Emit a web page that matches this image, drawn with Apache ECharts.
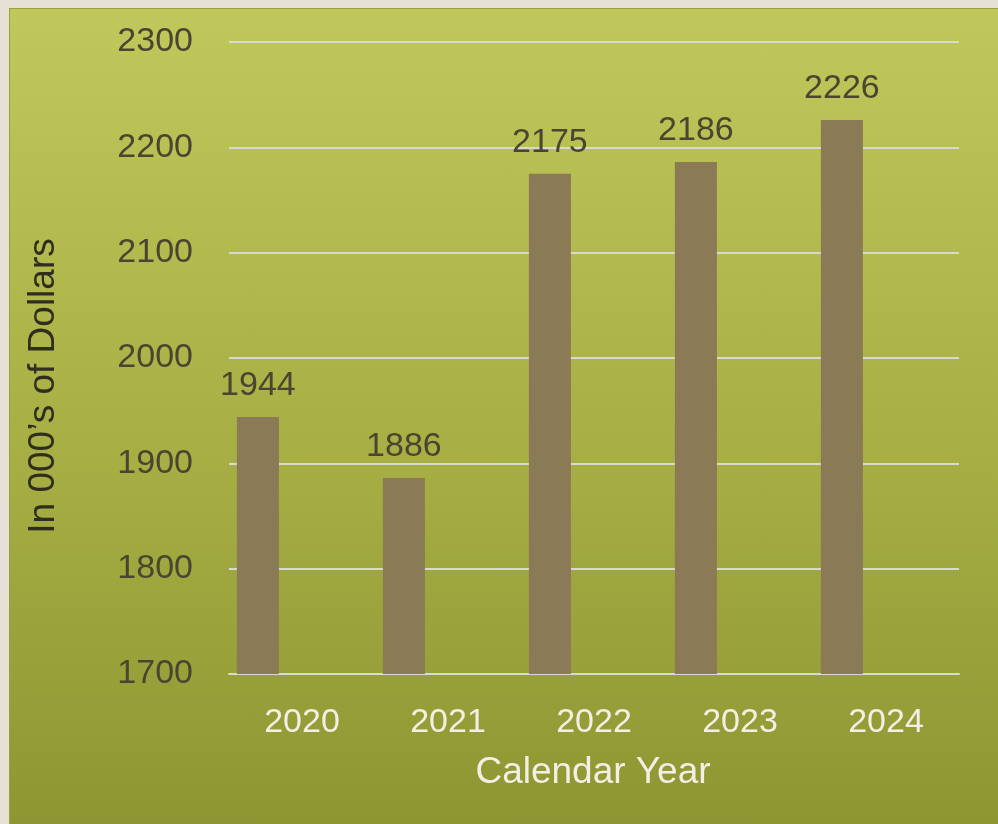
<!DOCTYPE html>
<html>
<head>
<meta charset="utf-8">
<title>Calendar Year</title>
<script src="https://cdn.jsdelivr.net/npm/echarts@6/dist/echarts.min.js"></script>
<style>
  html, body { margin: 0; padding: 0; background: #e6e0d7; }
  #frame {
    position: absolute; left: 9px; top: 8px; width: 988px; height: 815px;
    border-left: 1px solid #97a23f; border-top: 1px solid #97a23f;
    background: linear-gradient(to bottom, #c0c75b 0%, #a9b146 50%, #8d9632 100%);
  }
  #chart { width: 988px; height: 815px; }
</style>
</head>
<body>
<div id="frame"><div id="chart"></div></div>
<script>
  const years = ['2020', '2021', '2022', '2023', '2024'];
  const spending = [1944, 1886, 2175, 2186, 2226];
  const emptySlot = [null, null, null, null, null];
  const yTicks = { min: 1700, max: 2300, interval: 100 };

  const font = '"Liberation Sans", Arial, sans-serif';
  const myChart = echarts.init(document.getElementById('chart'));

  const option = {
    animation: false,
    grid: { left: 219, right: 39, top: 33, bottom: 150 },
    xAxis: {
      type: 'category',
      data: years,
      axisLine: { lineStyle: { color: '#d9d9d4', width: 2 } },
      axisTick: { show: false },
      axisLabel: { color: '#f2efe4', fontSize: 34, fontFamily: font, margin: 32 }
    },
    yAxis: {
      type: 'value',
      min: yTicks.min,
      max: yTicks.max,
      interval: yTicks.interval,
      axisLine: { show: false },
      axisTick: { show: false },
      splitLine: { lineStyle: { color: '#d9d9d4', width: 2 } },
      axisLabel: {
        color: '#4a4530', fontSize: 34, fontFamily: font, margin: 36,
        formatter: (v) => String(v)
      }
    },
    series: [
      {
        type: 'bar',
        data: spending,
        barWidth: 42,
        barGap: '110%',
        itemStyle: { color: '#8a7a55' },
        label: {
          show: true,
          position: 'top',
          distance: 14,
          color: '#4a4530',
          fontSize: 34,
          fontFamily: font
        }
      },
      {
        type: 'bar',
        data: emptySlot,
        barWidth: 42,
        itemStyle: { color: 'transparent' }
      }
    ],
    graphic: [
      {
        type: 'text',
        x: 583,
        y: 764,
        style: {
          text: 'Calendar Year', fill: '#f2efe4', font: '37px ' + font,
          align: 'center', verticalAlign: 'middle'
        }
      },
      {
        type: 'text',
        x: 34,
        y: 377,
        rotation: Math.PI / 2,
        style: {
          text: 'In 000\u2019s of Dollars',
          fill: '#2f2d1e',
          font: '37px ' + font,
          align: 'center',
          verticalAlign: 'middle'
        }
      }
    ]
  };

  myChart.setOption(option);
</script>
</body>
</html>
